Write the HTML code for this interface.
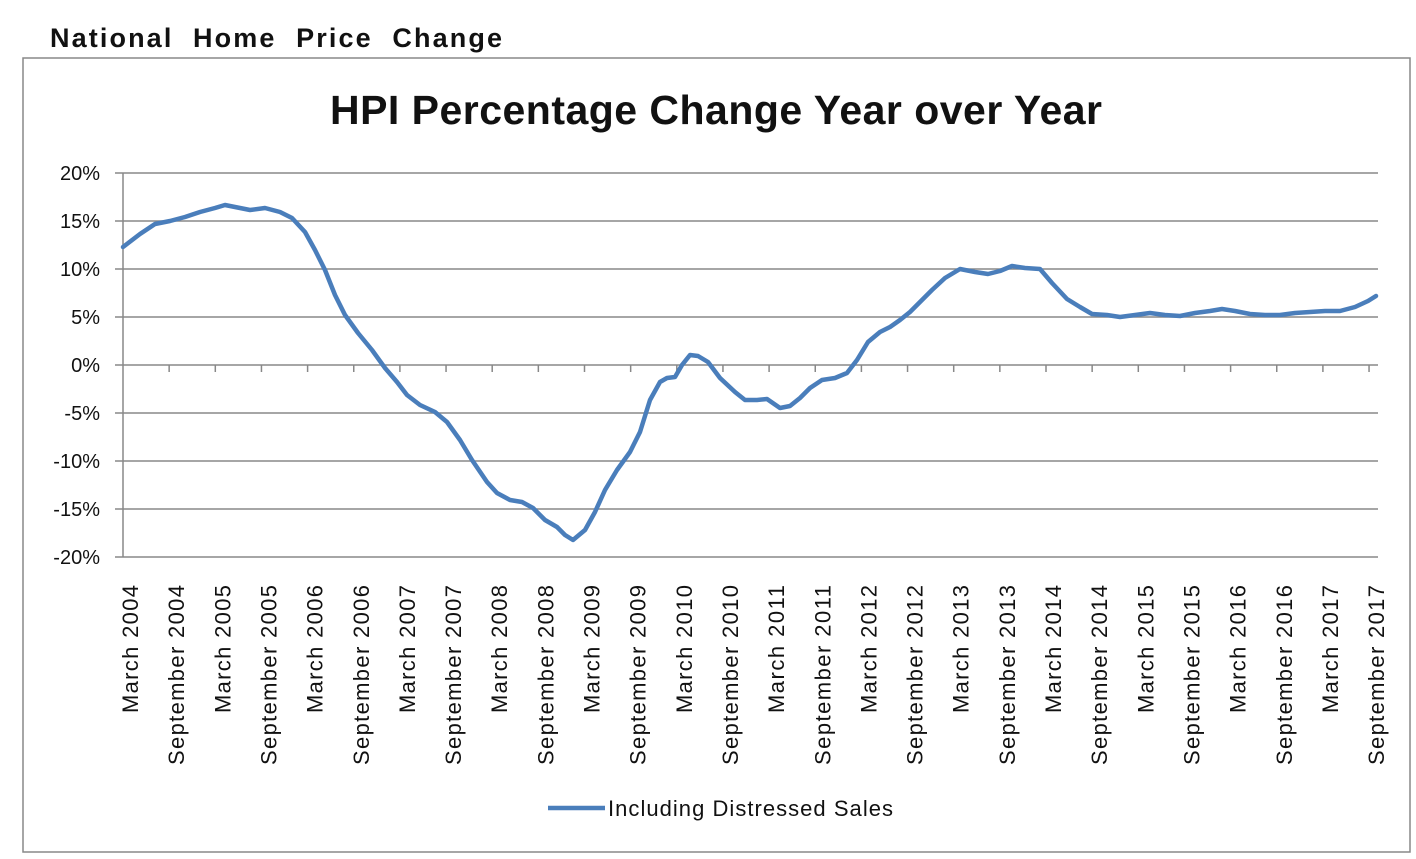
<!DOCTYPE html>
<html><head><meta charset="utf-8"><style>
body{margin:0;background:#fff;width:1416px;height:854px;overflow:hidden;font-family:"Liberation Sans",sans-serif}
</style></head><body>
<svg width="1416" height="854" xmlns="http://www.w3.org/2000/svg" font-family="Liberation Sans, sans-serif">
<text x="50" y="47" font-size="27" font-weight="bold" fill="#111" word-spacing="10" textLength="452">National Home Price Change</text>
<rect x="23" y="58" width="1387" height="794" fill="#fff" stroke="#888" stroke-width="1.5"/>
<text x="716" y="124" font-size="41" font-weight="bold" text-anchor="middle" fill="#111" textLength="772">HPI Percentage Change Year over Year</text>
<g stroke="#888" stroke-width="1.5">
<line x1="123" y1="173" x2="1378" y2="173"/><line x1="123" y1="221" x2="1378" y2="221"/>
<line x1="123" y1="269" x2="1378" y2="269"/><line x1="123" y1="317" x2="1378" y2="317"/>
<line x1="123" y1="365" x2="1378" y2="365"/><line x1="123" y1="413" x2="1378" y2="413"/>
<line x1="123" y1="461" x2="1378" y2="461"/><line x1="123" y1="509" x2="1378" y2="509"/>
<line x1="123" y1="557" x2="1378" y2="557"/>
<line x1="123" y1="173" x2="123" y2="557"/>
<line x1="115" y1="173" x2="123" y2="173"/><line x1="115" y1="221" x2="123" y2="221"/><line x1="115" y1="269" x2="123" y2="269"/><line x1="115" y1="317" x2="123" y2="317"/><line x1="115" y1="365" x2="123" y2="365"/><line x1="115" y1="413" x2="123" y2="413"/><line x1="115" y1="461" x2="123" y2="461"/><line x1="115" y1="509" x2="123" y2="509"/><line x1="115" y1="557" x2="123" y2="557"/>
</g>
<g stroke="#888" stroke-width="1.5" id="ticks"></g>
<g font-size="20" fill="#111" text-anchor="end">
<text x="100" y="180">20%</text><text x="100" y="228">15%</text><text x="100" y="276">10%</text><text x="100" y="324">5%</text><text x="100" y="372">0%</text><text x="100" y="420">-5%</text><text x="100" y="468">-10%</text><text x="100" y="516">-15%</text><text x="100" y="564">-20%</text>
</g>
<g id="xl" font-size="22" fill="#111" text-anchor="end"></g>
<polyline fill="none" stroke="#4a7ebb" stroke-width="4.5" stroke-linejoin="round" stroke-linecap="round" points="123,247 140,234 155,224 170,221 185,217 200,212 215,208 225,205 235,207 250,210 265,208 280,212 292,218 305,232 315,250 325,270 335,295 345,315 358,333 372,350 385,368 397,382 407,395 420,405 435,412 447,422 460,440 472,460 487,482 497,493 510,500 522,502 533,508 545,520 557,527 565,535 573,540 585,530 595,512 605,490 617,470 630,452 640,432 650,400 660,382 667,378 675,377 682,365 690,355 698,356 708,362 720,378 735,392 745,400 757,400 767,399 780,408 790,406 800,398 810,388 822,380 835,378 847,373 857,360 868,342 880,332 890,327 900,320 910,312 920,302 932,290 945,278 960,269 975,272 988,274 1000,271 1012,266 1025,268 1040,269 1052,283 1067,299 1080,307 1092,314 1107,315 1120,317 1135,315 1150,313 1165,315 1180,316 1195,313 1210,311 1222,309 1235,311 1250,314 1265,315 1280,315 1295,313 1310,312 1325,311 1340,311 1355,307 1368,301 1376,296"/>
<line x1="548" y1="808" x2="605" y2="808" stroke="#4a7ebb" stroke-width="4.5"/>
<text x="608" y="816" font-size="22" fill="#111" textLength="285">Including Distressed Sales</text>
</svg>
<script>
var L=[];for(var y=2004;y<=2017;y++){L.push("March "+y);L.push("September "+y);}
var g=document.getElementById("xl"),t=document.getElementById("ticks"),ns="http://www.w3.org/2000/svg";
for(var i=0;i<28;i++){var x=130+i*46.15;var e=document.createElementNS(ns,"text");e.setAttribute("transform","translate("+(x+8)+",585) rotate(-90)");e.setAttribute("textLength",(i%2==0)?128:180);e.textContent=L[i];g.appendChild(e);
if(i<27){var l=document.createElementNS(ns,"line");var tx=123+(i+1)*46.15;l.setAttribute("x1",tx);l.setAttribute("x2",tx);l.setAttribute("y1",365);l.setAttribute("y2",372);t.appendChild(l);}}
</script>
</body></html>
